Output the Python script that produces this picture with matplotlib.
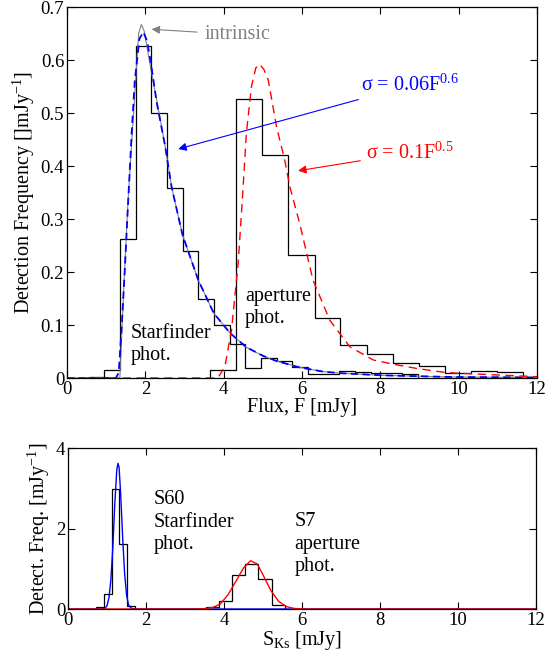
import numpy as np
import matplotlib
matplotlib.use('Agg')
import matplotlib.pyplot as plt

plt.rcParams['font.family'] = ['Liberation Serif', 'DejaVu Serif']
plt.rcParams['mathtext.fontset'] = 'custom'
plt.rcParams['mathtext.rm'] = 'Liberation Serif'
plt.rcParams['mathtext.it'] = 'Liberation Serif:italic'
plt.rcParams['mathtext.default'] = 'regular'
plt.rcParams['font.size'] = 14.5

# --- top panel: histograms ---
sf_edges = [0.55, 0.95, 1.35, 1.75, 2.15, 2.55, 2.95, 3.35, 3.75, 4.15, 4.55,
            4.95, 5.35, 5.75, 6.15, 6.55, 6.95, 7.35, 7.75, 8.15, 8.55, 8.95]
sf_hist = [0.002, 0.016, 0.263, 0.627, 0.50, 0.358, 0.24, 0.15, 0.10, 0.064,
           0.019, 0.038, 0.032, 0.021, 0.007, 0.007, 0.013, 0.011, 0.010, 0.010, 0.007]

ap_edges = [3.65, 4.32, 4.98, 5.65, 6.32, 6.98, 7.65, 8.32, 8.98, 9.65,
            10.32, 10.98, 11.65]
ap_hist = [0.016, 0.527, 0.42, 0.232, 0.114, 0.062, 0.045, 0.028, 0.023,
           0.009, 0.014, 0.011]

# intrinsic flux distribution (grey)
intr_f = [0, 1.30, 1.35, 1.45, 1.56, 1.70, 1.83, 1.90, 1.97, 2.10, 2.29, 2.50,
          2.67, 2.95, 3.35, 3.75, 4.16, 4.58, 5.0, 5.35, 5.94, 6.54, 7.0,
          8.06, 9.77, 12.0]
intr_n = [0, 0, 0.0, 0.17, 0.336, 0.50, 0.65, 0.667, 0.655, 0.60, 0.525, 0.44,
          0.361, 0.27, 0.185, 0.122, 0.085, 0.058, 0.042, 0.032, 0.020,
          0.012, 0.009, 0.005, 0.002, 0.001]

# model for Starfinder photometry, sigma = 0.06 F^0.6 (blue dashed)
sf_f = [0, 1.25, 1.32, 1.40, 1.48, 1.56, 1.65, 1.73, 1.85, 1.95, 2.05, 2.15,
        2.29, 2.50, 2.67, 2.95, 3.35, 3.75, 4.16, 4.58, 5.0, 5.35, 5.94,
        6.54, 7.0, 8.06, 9.77, 12.0]
sf_mod = [0, 0, 0.01, 0.10, 0.21, 0.33, 0.46, 0.56, 0.64, 0.653, 0.635, 0.59,
          0.52, 0.44, 0.361, 0.27, 0.185, 0.122, 0.085, 0.058, 0.042, 0.032,
          0.020, 0.012, 0.009, 0.005, 0.002, 0.001]

# model for aperture photometry, sigma = 0.1 F^0.5 (red dashed)
ap_f = [0, 3.85, 4.03, 4.20, 4.37, 4.48, 4.58, 4.71, 4.82, 4.92, 5.03, 5.14,
        5.35, 5.56, 5.69, 5.94, 6.28, 6.71, 7.22, 7.82, 8.33, 8.93, 9.70,
        10.45, 11.2, 12.0]
ap_mod = [0, 0, 0.021, 0.09, 0.216, 0.34, 0.462, 0.55, 0.585, 0.592, 0.582,
          0.562, 0.474, 0.411, 0.361, 0.292, 0.185, 0.109, 0.059, 0.034,
          0.026, 0.018, 0.010, 0.0075, 0.005, 0.0025]

# --- bottom panel ---
s60_edges = [0.73, 0.93, 1.12, 1.32, 1.52, 1.72]
s60_hist = [0.05, 0.37, 2.97, 1.61, 0.07]
s7_edges = [3.54, 3.88, 4.21, 4.55, 4.88, 5.22, 5.56]
s7_hist = [0.06, 0.19, 0.84, 1.12, 0.74, 0.11]

s60_x = [0, 0.85, 0.95, 1.0, 1.05, 1.10, 1.15, 1.20, 1.25, 1.28, 1.31, 1.35,
         1.40, 1.45, 1.50, 1.55, 1.62, 1.72, 12.0]
s60_y = [0, 0, 0.02, 0.08, 0.28, 0.74, 1.55, 2.62, 3.45, 3.62, 3.52, 2.85,
         1.80, 0.90, 0.36, 0.11, 0.02, 0, 0]
s7_x = [0, 3.3, 3.5, 3.7, 3.9, 4.1, 4.3, 4.5, 4.68, 4.85, 5.0, 5.2, 5.4,
        5.6, 5.8, 6.05, 12.0]
s7_y = [0, 0, 0.01, 0.035, 0.12, 0.35, 0.68, 1.02, 1.20, 1.12, 0.85, 0.46,
        0.19, 0.06, 0.014, 0, 0]


def style_axes(ax):
    ax.tick_params(direction='in', top=True, right=True, length=5,
                   width=0.8, labelsize=13.5, pad=2)
    for s in ax.spines.values():
        s.set_linewidth(0.9)


fig = plt.figure(figsize=(5.45, 6.55), dpi=100)

ax1 = fig.add_axes([0.1229, 0.4229, 0.8624, 0.5664])
ax1.stairs(sf_hist, sf_edges, color='k', lw=0.9)
ax1.stairs(ap_hist, ap_edges, color='k', lw=0.9)
ax1.plot(intr_f, intr_n, color='#808080', lw=0.8)
ax1.plot(sf_f, sf_mod, color='b', lw=1.3, ls=(0, (4, 2.5)))
ax1.plot(ap_f, ap_mod, color='r', lw=1.0, ls=(0, (6, 4)))

ax1.set_xlim(0, 12)
ax1.set_ylim(0, 0.7)
ax1.set_xticks(np.arange(0, 13, 2))
ax1.set_yticks(np.arange(0, 0.71, 0.1))
ax1.set_yticklabels(['0', '0.1', '0.2', '0.3', '0.4', '0.5', '0.6', '0.7'])
style_axes(ax1)
ax1.set_xlabel('Flux, F [mJy]', labelpad=0)
ax1.set_ylabel('Detection Frequency []mJy$^{-1}$]', labelpad=3)

ax1.annotate('intrinsic', xy=(2.16, 0.658), xytext=(3.5, 0.648),
             ha='left', va='center', color='#808080', fontsize=14.5,
             arrowprops=dict(arrowstyle='-|>', color='#808080', lw=0.8,
                             shrinkA=3, shrinkB=0, mutation_scale=12))
ax1.annotate('σ = 0.06F$^{0.6}$', xy=(2.84, 0.432), xytext=(7.5, 0.552),
             ha='left', va='center', color='b', fontsize=14.5,
             arrowprops=dict(arrowstyle='-|>', color='b', lw=0.8,
                             shrinkA=2, shrinkB=0, mutation_scale=12))
ax1.annotate('σ = 0.1F$^{0.5}$', xy=(5.9, 0.391), xytext=(7.63, 0.425),
             ha='left', va='center', color='r', fontsize=14.5,
             arrowprops=dict(arrowstyle='-|>', color='r', lw=0.8,
                             shrinkA=2, shrinkB=0, mutation_scale=12))
ax1.text(1.63, 0.102, 'Starfinder\nphot.', ha='left', va='top',
         fontsize=14.5, linespacing=1.25)
ax1.text(4.54, 0.172, 'aperture\nphot.', ha='left', va='top',
         fontsize=14.5, linespacing=1.25)

ax2 = fig.add_axes([0.1248, 0.0702, 0.8587, 0.2458])
ax2.stairs(s60_hist, s60_edges, color='k', lw=0.9)
ax2.stairs(s7_hist, s7_edges, color='k', lw=0.9)
ax2.plot(s60_x, s60_y, color='b', lw=1.0)
ax2.plot(s7_x, s7_y, color='r', lw=1.0)
ax2.set_xlim(0, 12)
ax2.set_ylim(0, 4)
ax2.set_xticks(np.arange(0, 13, 2))
ax2.set_yticks([0, 2, 4])
style_axes(ax2)
ax2.set_xlabel('S$_{\\rm Ks}$ [mJy]', labelpad=0)
ax2.set_ylabel('Detect. Freq. [mJy$^{-1}$]', labelpad=3)
ax2.text(2.19, 2.95, 'S60\nStarfinder\nphot.', ha='left', va='top',
         fontsize=14.5, linespacing=1.25)
ax2.text(5.8, 2.4, 'S7\naperture\nphot.', ha='left', va='top',
         fontsize=14.5, linespacing=1.25)

fig.savefig('out.png', dpi=100)
